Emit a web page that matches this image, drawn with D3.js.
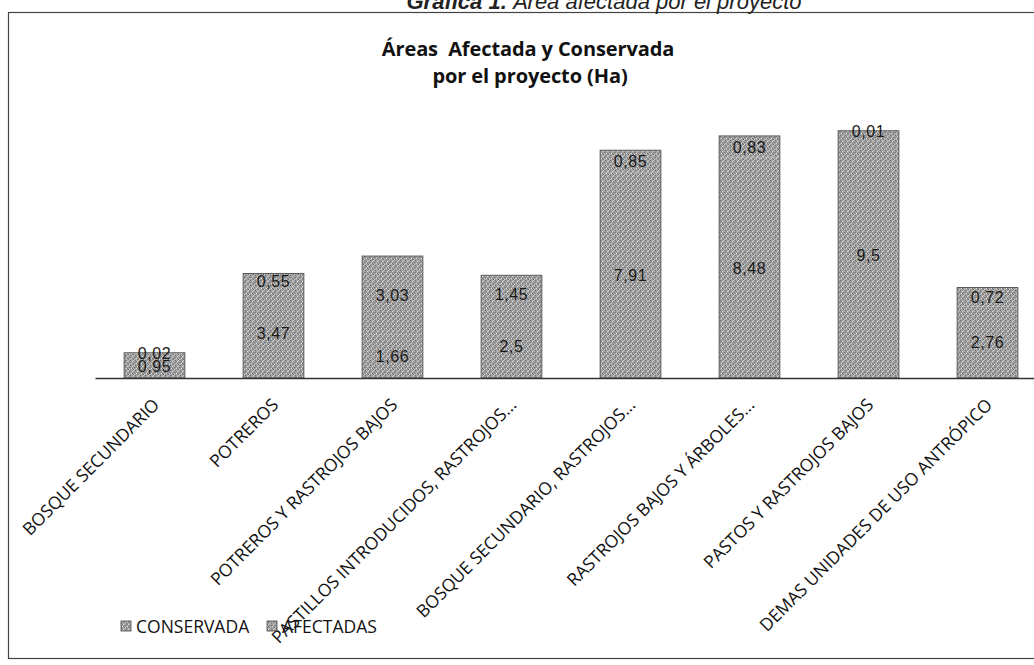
<!DOCTYPE html>
<html>
<head>
<meta charset="utf-8">
<script src="https://cdn.jsdelivr.net/npm/d3@7"></script>
<style>
  body { margin: 0; background: #fff; }
  svg { display: block; }
</style>
</head>
<body>
<div id="chart"></div>
<script>
// categorias y valores (Ha)
var categorias = ["BOSQUE SECUNDARIO", "POTREROS", "POTREROS Y RASTROJOS BAJOS",
  "PASTILLOS INTRODUCIDOS, RASTROJOS...", "BOSQUE SECUNDARIO, RASTROJOS...",
  "RASTROJOS BAJOS Y ÁRBOLES...", "PASTOS Y RASTROJOS BAJOS", "DEMAS UNIDADES DE USO ANTRÓPICO"];
var conservada = [0.95, 3.47, 1.66, 2.5, 7.91, 8.48, 9.5, 2.76];
var afectadas = [0.02, 0.55, 3.03, 1.45, 0.85, 0.83, 0.01, 0.72];
var series = ["CONSERVADA", "AFECTADAS"];

var width = 1034, height = 665;
var svg = d3.select("#chart").append("svg").attr("width", width).attr("height", height);

// textura gris tipo escaneo
var defs = svg.append("defs");
var pat = defs.append("pattern").attr("id", "gris").attr("patternUnits", "userSpaceOnUse")
  .attr("width", 5).attr("height", 5);
pat.append("rect").attr("width", 5).attr("height", 5).attr("fill", "#a2a2a2");
var puntos = [[0,0,"#6e6e6e"],[2,1,"#d6d6d6"],[4,2,"#7a7a7a"],[1,3,"#e0e0e0"],[3,4,"#666"],[3,0,"#c8c8c8"],[0,2,"#888"],[2,3,"#727272"],[4,4,"#d0d0d0"],[1,1,"#8a8a8a"]];
for (var p of puntos) {
  pat.append("rect").attr("x", p[0]).attr("y", p[1]).attr("width", 1).attr("height", 1).attr("fill", p[2]);
}

// marco
svg.append("rect").attr("x", 8.5).attr("y", 12.5).attr("width", 1040).attr("height", 646)
  .attr("fill", "none").attr("stroke", "#444").attr("stroke-width", 1.2);

// titulo de la grafica (cortado arriba)
var cap = svg.append("text").attr("x", 604).attr("y", 9).attr("text-anchor", "middle")
  .style("font-family", "'Liberation Sans', Arial, sans-serif").style("font-size", "22px")
  .style("font-style", "italic").attr("fill", "#222");
cap.append("tspan").style("font-weight", "bold").text("Gráfica 1.");
cap.append("tspan").text(" Área afectada por el proyecto");

var titulo = svg.append("text").attr("text-anchor", "middle").style("white-space", "pre")
  .style("font-family", "'Open Sans', sans-serif").style("font-size", "20px")
  .style("font-weight", "bold").style("letter-spacing", "-0.1px").attr("fill", "#111");
titulo.append("tspan").attr("x", 528).attr("y", 56).text("Áreas  Afectada y Conservada");
titulo.append("tspan").attr("x", 530).attr("y", 83).text("por el proyecto (Ha)");

var x0 = 95, baseY = 378;
var x = d3.scaleBand().domain(categorias).range([x0, x0 + 8 * 119]).paddingInner(0.49).paddingOuter(0.245);
var y = d3.scaleLinear().domain([0, 10]).range([baseY, baseY - 260]);

var datos = categorias.map(function(c, i) { return { cat: c, CONSERVADA: conservada[i], AFECTADAS: afectadas[i] }; });
var pila = d3.stack().keys(series)(datos);

var g = svg.append("g");
pila.forEach(function(capa) {
  g.selectAll(null).data(capa).enter().append("rect")
    .attr("x", function(d) { return x(d.data.cat); })
    .attr("y", function(d) { return y(d[1]); })
    .attr("width", x.bandwidth())
    .attr("height", function(d) { return y(d[0]) - y(d[1]); })
    .attr("fill", "url(#gris)");
});
// contorno de cada barra
g.selectAll(".borde").data(datos).enter().append("rect")
  .attr("x", function(d) { return x(d.cat); })
  .attr("y", function(d) { return y(d.CONSERVADA + d.AFECTADAS); })
  .attr("width", x.bandwidth())
  .attr("height", function(d) { return baseY - y(d.CONSERVADA + d.AFECTADAS); })
  .attr("fill", "none").attr("stroke", "#5a5a5a").attr("stroke-width", 1);

// eje x
var eje = d3.axisBottom(x).tickSize(0).tickFormat("");
svg.append("g").attr("transform", "translate(0," + baseY + ")").call(eje)
  .select(".domain").attr("stroke", "#333").attr("stroke-width", 1.5);

// etiquetas de datos
var fmt = function(v) { return String(v).replace(".", ","); };
pila.forEach(function(capa) {
  g.selectAll(null).data(capa).enter().append("text")
    .attr("x", function(d) { return x(d.data.cat) + x.bandwidth() / 2; })
    .attr("y", function(d) { return (y(d[0]) + y(d[1])) / 2 + 6; })
    .attr("text-anchor", "middle")
    .style("font-family", "'Liberation Sans', Arial, sans-serif").style("font-size", "16px")
    .style("letter-spacing", "0.6px")
    .attr("fill", "#1a1a1a")
    .text(function(d) { return fmt(d.data[capa.key]); });
});

// etiquetas de categorias giradas
svg.selectAll(".cat").data(categorias).enter().append("text")
  .attr("transform", function(d) { return "translate(" + (x(d) + x.bandwidth() / 2 + 6) + "," + (baseY + 28) + ") rotate(-45)"; })
  .attr("text-anchor", "end")
  .style("font-family", "'Open Sans', sans-serif").style("font-size", "17.5px")
  .attr("fill", "#111")
  .text(function(d) { return d; });

// leyenda
var ley = svg.append("g").attr("transform", "translate(121,633)");
var lx = [0, 146];
series.forEach(function(s, i) {
  ley.append("rect").attr("x", lx[i]).attr("y", -12).attr("width", 10).attr("height", 10)
    .attr("fill", "url(#gris)").attr("stroke", "#444").attr("stroke-width", 0.8);
  ley.append("text").attr("x", lx[i] + 15).attr("y", 0)
    .style("font-family", "'Open Sans', sans-serif").style("font-size", "17.5px")
    .attr("fill", "#111").text(s);
});
</script>
</body>
</html>
